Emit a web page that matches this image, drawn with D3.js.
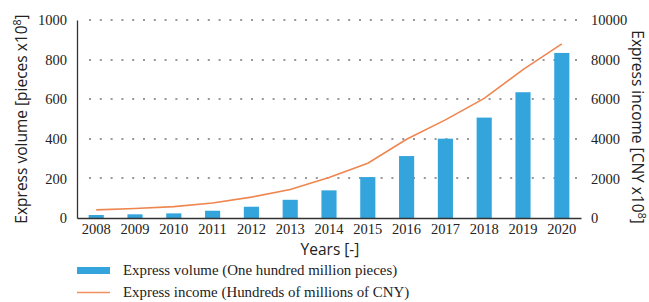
<!DOCTYPE html>
<html>
<head>
<meta charset="utf-8">
<script src="https://cdn.jsdelivr.net/npm/d3@7"></script>
<style>
body { margin: 0; background: #fff; }
.tick text { font-family: "Liberation Serif", "DejaVu Serif", serif; font-size: 14.5px; fill: #222; }
.axtitle { font-family: "Open Sans", "Noto Sans", sans-serif; font-size: 15.5px; fill: #222; }
.legtext { font-family: "Liberation Serif", "DejaVu Serif", serif; font-size: 14.9px; fill: #222; }
</style>
</head>
<body>
<div id="chart"></div>
<script>
(function() {

const w = 649;
const h = 302;

const years = ["2008", "2009", "2010", "2011", "2012", "2013", "2014", "2015", "2016", "2017", "2018", "2019", "2020"];
// express volume, hundred million pieces
const volume = [15.1, 18.6, 23.4, 36.7, 56.9, 91.9, 139.6, 206.7, 312.8, 400.6, 507.1, 635.2, 833.6];
// express income, hundred million CNY
const income = [408, 479, 574, 758, 1055, 1442, 2045, 2770, 3974, 4957, 6038, 7497, 8795];
const leftTicks = [0, 200, 400, 600, 800, 1000];
const rightTicks = [0, 2000, 4000, 6000, 8000, 10000];

const left = 77, right = 581, top = 20, bottom = 218;

const svg = d3.select("#chart")
    .append("svg")
    .attr("width", w)
    .attr("height", h);

const xScale = d3.scaleBand()
    .domain(years)
    .range([left, right])
    .paddingInner(0.61)
    .paddingOuter(0.3);

const xPoint = function(d) { return xScale(d) + xScale.bandwidth() / 2; };

const yLeft = d3.scaleLinear().domain([0, 1000]).range([bottom, top]);
const yRight = d3.scaleLinear().domain([0, 10000]).range([bottom, top]);

// dotted gridlines
svg.append("g")
    .selectAll("line")
    .data(leftTicks.slice(1))
    .enter()
    .append("line")
    .attr("x1", left + 12)
    .attr("x2", right)
    .attr("y1", function(d) { return Math.round(yLeft(d)); })
    .attr("y2", function(d) { return Math.round(yLeft(d)); })
    .attr("stroke", "#999")
    .attr("stroke-width", 2)
    .attr("stroke-dasharray", "2,8.8");

// bars
svg.append("g")
    .selectAll("rect")
    .data(years)
    .enter()
    .append("rect")
    .attr("x", function(d) { return xScale(d); })
    .attr("y", function(d, i) { return yLeft(volume[i]); })
    .attr("width", xScale.bandwidth())
    .attr("height", function(d, i) { return bottom - yLeft(volume[i]); })
    .attr("fill", "#34a5dc");

// income line
const line = d3.line()
    .x(function(d, i) { return xPoint(years[i]); })
    .y(function(d) { return yRight(d); });

svg.append("path")
    .datum(income)
    .attr("d", line)
    .attr("fill", "none")
    .attr("stroke", "#ef8650")
    .attr("stroke-width", 1.6);

// left axis
const leftAxis = svg.append("g")
    .attr("transform", `translate(${left},0)`)
    .call(d3.axisLeft(yLeft).tickValues(leftTicks).tickFormat(d3.format("d")).tickSize(0).tickPadding(10));
leftAxis.select(".domain").attr("stroke", "#333").attr("stroke-width", 1.3);

// bottom axis
const bottomAxis = svg.append("g")
    .attr("transform", `translate(0,${bottom})`)
    .call(d3.axisBottom(xScale).tickSize(0).tickPadding(6));
bottomAxis.select(".domain").attr("stroke", "#333").attr("stroke-width", 1.3);

// right axis (labels only)
const rightAxis = svg.append("g")
    .attr("transform", `translate(${right},0)`)
    .call(d3.axisRight(yRight).tickValues(rightTicks).tickFormat(d3.format("d")).tickSize(0).tickPadding(10));
rightAxis.select(".domain").remove();

// axis titles
const leftTitle = svg.append("text")
    .attr("class", "axtitle")
    .attr("text-anchor", "middle")
    .attr("transform", `translate(27,${(top + bottom) / 2}) rotate(-90)`);
leftTitle.append("tspan").text("Express volume [pieces x10");
leftTitle.append("tspan").attr("dy", -6).attr("font-size", "10.5px").text("8");
leftTitle.append("tspan").attr("dy", 6).text("]");

const rightTitle = svg.append("text")
    .attr("class", "axtitle")
    .attr("text-anchor", "middle")
    .attr("transform", `translate(632,${(top + bottom) / 2 + 8}) rotate(90)`);
rightTitle.append("tspan").text("Express income [CNY x10");
rightTitle.append("tspan").attr("dy", -6).attr("font-size", "10.5px").text("8");
rightTitle.append("tspan").attr("dy", 6).text("]");

svg.append("text")
    .attr("class", "axtitle")
    .attr("text-anchor", "middle")
    .attr("x", 330)
    .attr("y", 255)
    .text("Years [-]");

// legend
const legend = svg.append("g").attr("transform", "translate(77,0)");
legend.append("rect")
    .attr("x", 0)
    .attr("y", 267)
    .attr("width", 33)
    .attr("height", 7)
    .attr("fill", "#34a5dc");
legend.append("text")
    .attr("class", "legtext")
    .attr("x", 46)
    .attr("y", 275)
    .text("Express volume (One hundred million pieces)");
legend.append("line")
    .attr("x1", 0)
    .attr("x2", 33)
    .attr("y1", 292.5)
    .attr("y2", 292.5)
    .attr("stroke", "#f28f5e")
    .attr("stroke-width", 1.6);
legend.append("text")
    .attr("class", "legtext")
    .attr("x", 46)
    .attr("y", 297)
    .text("Express income (Hundreds of millions of CNY)");

})();
</script>
</body>
</html>
